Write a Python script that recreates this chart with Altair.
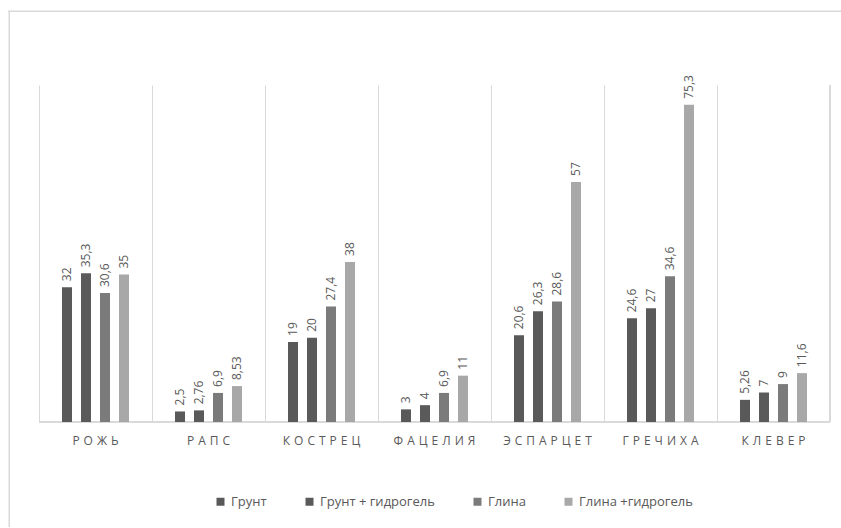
import altair as alt
import pandas as pd

categories = ["РОЖЬ", "РАПС", "КОСТРЕЦ", "ФАЦЕЛИЯ", "ЭСПАРЦЕТ", "ГРЕЧИХА", "КЛЕВЕР"]
series = ["Грунт", "Грунт + гидрогель", "Глина", "Глина +гидрогель"]
grunt = [32, 2.5, 19, 3, 20.6, 24.6, 5.26]
grunt_gel = [35.3, 2.76, 20, 4, 26.3, 27, 7]
glina = [30.6, 6.9, 27.4, 6.9, 28.6, 34.6, 9]
glina_gel = [35, 8.53, 38, 11, 57, 75.3, 11.6]
colors = ["#595959", "#5a5a5a", "#7b7b7b", "#a8a8a8"]

rows = []
for s, vals in zip(series, [grunt, grunt_gel, glina, glina_gel]):
    for c, v in zip(categories, vals):
        rows.append({"cat": c, "series": s, "value": v,
                     "label": (("%g" % v).replace(".", ","))})
df = pd.DataFrame(rows)
one = pd.DataFrame({"k": [0]})

FONT = "Open Sans"
W, H = 791, 337
PAD = {"left": 39, "top": 85, "right": 11, "bottom": 105}

x = alt.X("cat:N", sort=categories,
          scale=alt.Scale(paddingInner=0, paddingOuter=0),
          axis=alt.Axis(title=None, labelAngle=0, ticks=False, domain=False,
                        grid=True, bandPosition=0, gridColor="#d9d9d9",
                        labelFont=FONT, labelFontSize=12, labelColor="#595959",
                        labelPadding=13,
                        labelExpr="join(split(datum.label, ''), '\u2004')"))
xo = alt.XOffset("series:N", sort=series,
                 scale=alt.Scale(paddingInner=0.474, paddingOuter=0, range=[23, 90]))
y = alt.Y("value:Q", scale=alt.Scale(domain=[0, 80], nice=False),
          axis=None)

base = alt.Chart(df)
bars = base.mark_bar().encode(
    x=x, xOffset=xo, y=y,
    color=alt.Color("series:N", sort=series,
                    scale=alt.Scale(domain=series, range=colors),
                    legend=alt.Legend(title=None, orient="none", direction="horizontal",
                                      legendX=175, legendY=410, padding=0,
                                      symbolType="square", symbolSize=64,
                                      symbolStrokeWidth=0,
                                      labelFont=FONT, labelFontSize=13,
                                      labelColor="#595959", columnPadding=36,
                                      labelOffset=4))
)
labels = base.mark_text(angle=270, align="left", baseline="middle", dx=6,
                        font=FONT, fontSize=12, color="#595959").encode(
    x=x, xOffset=xo, y=y, text="label:N")

right_grid = alt.Chart(df).mark_rule(color="#d9d9d9").encode(
    x=alt.value(W), y=alt.value(0), y2=alt.value(H))
baseline = alt.Chart(df).mark_rule(color="#d9d9d9").encode(
    x=alt.value(0), x2=alt.value(W), y=alt.value(H))
border_top = alt.Chart(one).mark_rect(color="#d9d9d9").encode(
    x=alt.value(-30.5), x2=alt.value(W + PAD["right"]),
    y=alt.value(-74.5), y2=alt.value(-73))
border_left = alt.Chart(one).mark_rect(color="#d9d9d9").encode(
    x=alt.value(-30.5), x2=alt.value(-29),
    y=alt.value(-74.5), y2=alt.value(H + PAD["bottom"]))

chart = alt.layer(border_top, border_left, right_grid, baseline, bars, labels).properties(
    width=W, height=H,
    autosize=alt.AutoSizeParams(type="none"),
    padding=PAD,
    background="white",
).configure_view(stroke=None)

chart.save("out.html", embed_options={"renderer": "svg", "actions": False})
